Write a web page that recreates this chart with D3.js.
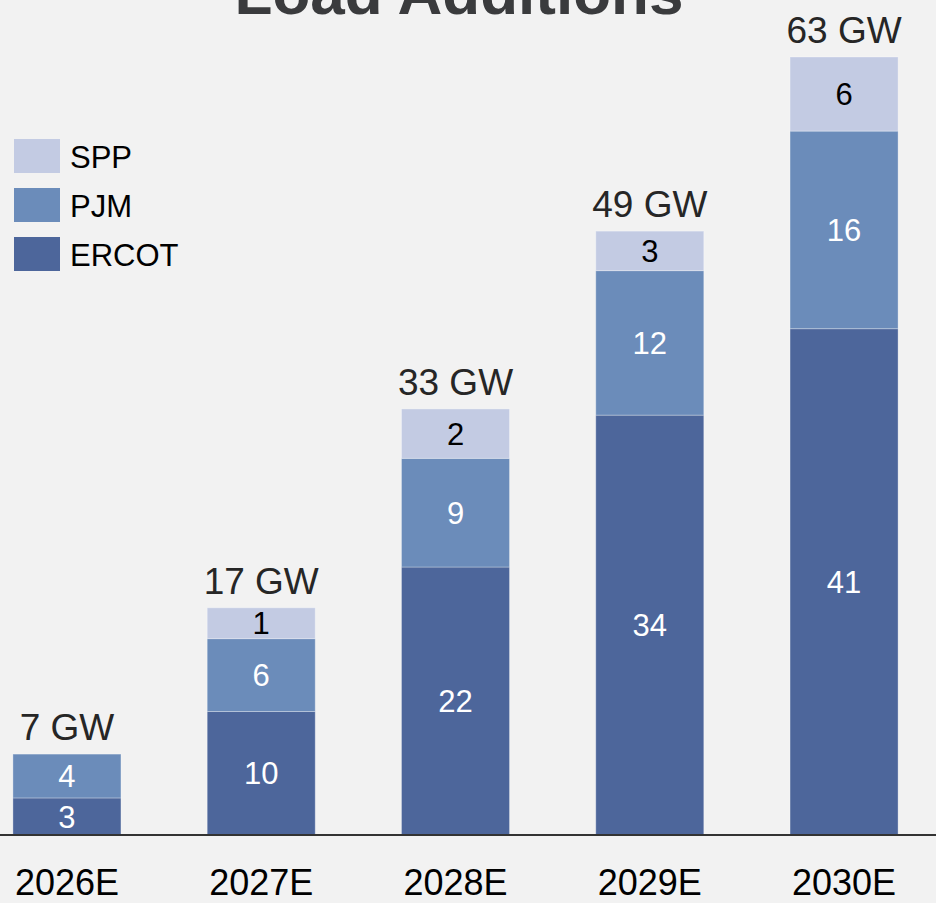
<!DOCTYPE html>
<html>
<head>
<meta charset="utf-8">
<script src="https://cdn.jsdelivr.net/npm/d3@7"></script>
<style>
  html, body { margin: 0; padding: 0; background: #f2f2f2; }
  svg { display: block; font-family: "Liberation Sans", Arial, sans-serif; }
</style>
</head>
<body>
<svg id="chart" width="936" height="903"></svg>
<script>
// ---- data ----
const categories = ["2026E", "2027E", "2028E", "2029E", "2030E"];
const seriesNames = ["ERCOT", "PJM", "SPP"];
// segment sizes (GW) as drawn
const ercot = [3.0, 10.0, 21.7, 34.0, 41.0];
const pjm   = [3.55, 5.9, 8.8, 11.7, 16.0];
const spp   = [0, 2.5, 4.0, 3.2, 6.0];
// labels printed on the segments / above the bars
const ercotLabels = ["3", "10", "22", "34", "41"];
const pjmLabels   = ["4", "6", "9", "12", "16"];
const sppLabels   = ["", "1", "2", "3", "6"];
const totalLabels = ["7 GW", "17 GW", "33 GW", "49 GW", "63 GW"];
const legendOrder = ["SPP", "PJM", "ERCOT"];
const titleText = "Load Additions";

// ---- styles ----
const colors = { ERCOT: "#4d669b", PJM: "#6b8cba", SPP: "#c3cbe3" };
const labelColors = { ERCOT: "#ffffff", PJM: "#ffffff", SPP: "#000000" };

const svg = d3.select("#chart");
const W = 936, H = 903;

svg.append("rect").attr("width", W).attr("height", H).attr("fill", "#f2f2f2");

const rows = categories.map((c, i) => ({
  cat: c, ERCOT: ercot[i], PJM: pjm[i], SPP: spp[i],
  labels: { ERCOT: ercotLabels[i], PJM: pjmLabels[i], SPP: sppLabels[i] },
  total: totalLabels[i]
}));

const x = d3.scaleBand().domain(categories).range([-30.2, 941.2])
  .paddingInner(0.444).paddingOuter(0.222);
const y = d3.scaleLinear().domain([0, 63]).range([835, 57]);

const stack = d3.stack().keys(seriesNames);
const layers = stack(rows);

// title (cut off at top, as in the source image)
svg.append("text")
  .attr("x", 459).attr("y", 14)
  .attr("text-anchor", "middle")
  .attr("font-weight", "bold")
  .attr("font-size", 62)
  .attr("fill", "#3a3b3d")
  .text(titleText);

// bars
const g = svg.append("g");
layers.forEach(layer => {
  const key = layer.key;
  layer.forEach(d => {
    if (d[1] - d[0] <= 0) return;
    g.append("rect")
      .attr("x", x(d.data.cat))
      .attr("width", x.bandwidth())
      .attr("y", y(d[1]))
      .attr("height", y(d[0]) - y(d[1]))
      .attr("fill", colors[key])
      .attr("stroke", "rgba(255,255,255,0.3)")
      .attr("stroke-width", 1);
    const lbl = d.data.labels[key];
    if (lbl) {
      g.append("text")
        .attr("x", x(d.data.cat) + x.bandwidth() / 2)
        .attr("y", (y(d[0]) + y(d[1])) / 2)
        .attr("dy", "0.36em")
        .attr("text-anchor", "middle")
        .attr("font-size", 31)
        .attr("fill", labelColors[key])
        .text(lbl);
    }
  });
});

// totals
const topLayer = layers[layers.length - 1];
topLayer.forEach(d => {
  svg.append("text")
    .attr("x", x(d.data.cat) + x.bandwidth() / 2)
    .attr("y", y(d[1]) - 14)
    .attr("text-anchor", "middle")
    .attr("font-size", 37)
    .attr("fill", "#262626")
    .text(d.data.total);
});

// axis
const xAxis = d3.axisBottom(x).tickSize(0).tickPadding(0);
const ax = svg.append("g").attr("transform", `translate(0,${y(0)})`).call(xAxis);
ax.select(".domain").remove();
ax.selectAll("text")
  .attr("font-size", 36)
  .attr("fill", "#000")
  .attr("font-family", "Liberation Sans, Arial, sans-serif")
  .attr("y", 60)
  .attr("dy", 0);
svg.append("line")
  .attr("x1", 0).attr("x2", W)
  .attr("y1", y(0)).attr("y2", y(0))
  .attr("stroke", "#333").attr("stroke-width", 2);

// legend
const leg = svg.append("g").attr("transform", "translate(14,139)");
legendOrder.forEach((name, i) => {
  const row = leg.append("g").attr("transform", `translate(0,${i * 49})`);
  row.append("rect").attr("width", 46).attr("height", 34).attr("fill", colors[name]);
  row.append("text").attr("x", 56).attr("y", 29)
    .attr("font-size", 31).attr("fill", "#000").text(name);
});
</script>
</body>
</html>
